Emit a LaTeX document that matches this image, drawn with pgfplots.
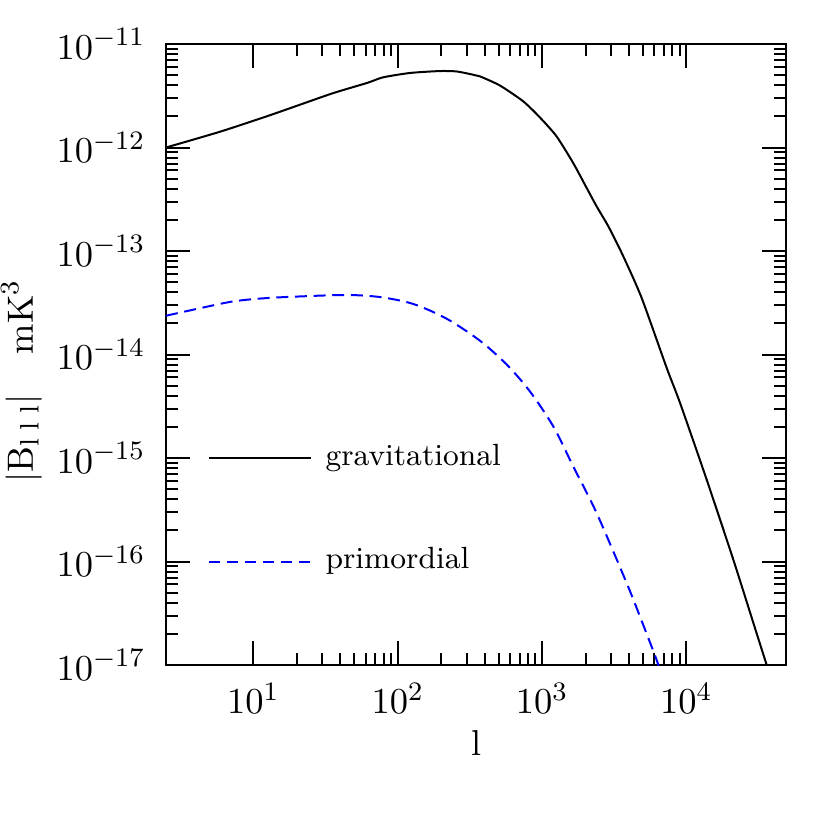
\documentclass[border=0pt]{standalone}
\usepackage{pgfplots}
\pgfplotsset{compat=1.18}

\begin{document}
\begin{tikzpicture}
\begin{axis}[
  xmode=log, ymode=log,
  scale only axis, width=186pt, height=186.3pt,
  xmin=2.48, xmax=4.9e4, ymin=1e-17, ymax=1e-11,
  xtick={10,100,1000,10000},
  ytick={1e-17,1e-16,1e-15,1e-14,1e-13,1e-12,1e-11},
  tick align=inside,
  major tick length=7.2pt, minor tick length=3.6pt,
  every tick/.style={black, line width=0.6pt},
  axis line style={line width=0.75pt},
  tick label style={font=\fontsize{10.8}{13}\selectfont},
  xticklabel style={yshift=-2pt},
  yticklabel style={xshift=-2.7pt},
  xlabel={l},
  xlabel style={font=\fontsize{10.8}{13}\selectfont, at={(rel axis cs:0.5,-0.145)}, anchor=base},
  ylabel={$|\mathrm{B}_{\mathrm{l}\hspace{2.6pt}\mathrm{l}\hspace{2.6pt}\mathrm{l}}|\hspace{12pt}\mathrm{mK}^3$},
  ylabel style={font=\fontsize{10.8}{13}\selectfont, inner sep=0pt, at={(rel axis cs:-0.233,0.457)}, anchor=center},
]
% gravitational
\addplot[black, line width=0.6pt, smooth, tension=0.4] coordinates {
  (2.48,1.0e-12) (5.86,1.42e-12) (12.35,2.0e-12) (21.0,2.59e-12)
  (35.6,3.35e-12) (62.1,4.23e-12) (78.9,4.76e-12) (121.5,5.25e-12)
  (196,5.48e-12) (256,5.43e-12) (333,5.05e-12) (371,4.87e-12)
  (511,3.97e-12) (741,2.79e-12) (967,1.95e-12) (1261,1.28e-12)
  (1644,7.08e-13) (1982,4.37e-13) (2388,2.70e-13) (2900,1.70e-13)
  (3657,8.87e-14) (4898,3.52e-14) (7307,7.41e-15) (9040,3.40e-15)
  (13830,6.16e-16) (21150,1.04e-16) (29100,2.55e-17) (36000,1.0e-17)
  (38000,7.9e-18)
};
% primordial
\addplot[blue, line width=0.6pt, dash pattern=on 3.6pt off 2pt, smooth, tension=0.5] coordinates {
  (2.48,2.37e-14) (4.26,2.80e-14) (7.24,3.26e-14) (12,3.50e-14)
  (21,3.64e-14) (44.3,3.76e-14) (75.3,3.59e-14) (128,3.08e-14)
  (218,2.22e-14) (371,1.36e-14) (569,8.0e-15) (824,4.4e-15)
  (1196,2.02e-15) (1644,8.3e-16) (2388,2.94e-16) (3857,6.19e-17)
  (4764,2.95e-17) (6222,1.12e-17) (6400,0.95e-17)
};
% legend
\draw[black, line width=0.6pt] (axis cs:4.92,1e-15) -- (axis cs:25.0,1e-15);
\draw[blue, line width=0.6pt, dash pattern=on 3.2pt off 2.2pt] (axis cs:4.92,1e-16) -- (axis cs:25.0,1e-16);
\node[anchor=base west, inner sep=0pt, font=\fontsize{9.2}{11}\selectfont] at ([yshift=-2.1pt]axis cs:31.3,1e-15) {gravitational};
\node[anchor=base west, inner sep=0pt, font=\fontsize{9.2}{11}\selectfont] at ([yshift=-2.1pt]axis cs:31.3,1e-16) {primordial};
\end{axis}
\path (current axis.south west) ++(-49.8pt,-49.5pt) rectangle ++(249pt,249pt);
\end{tikzpicture}
\end{document}
